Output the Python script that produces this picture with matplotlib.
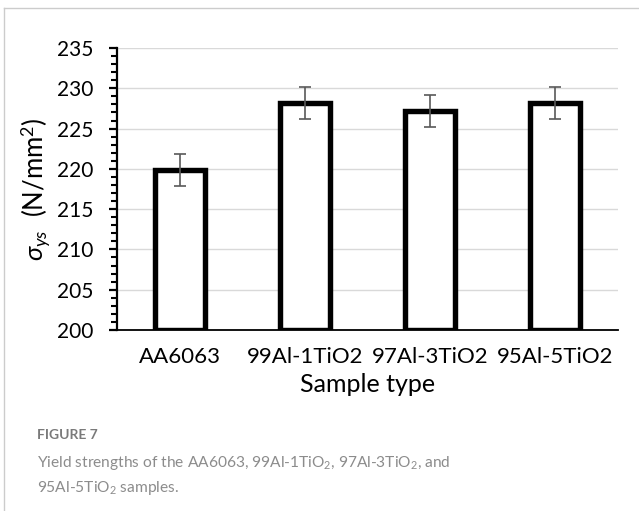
import matplotlib
matplotlib.use("Agg")
import matplotlib.pyplot as plt
from matplotlib.lines import Line2D
from matplotlib.ticker import MultipleLocator

categories = ["AA6063", "99Al-1TiO2", "97Al-3TiO2", "95Al-5TiO2"]
yield_strength = [219.9, 228.2, 227.2, 228.2]
errors = [2.0, 2.0, 2.0, 2.0]
y_ticks = [200, 205, 210, 215, 220, 225, 230, 235]

FONT = "Lato"
plt.rcParams["font.family"] = [FONT, "DejaVu Sans"]
plt.rcParams["mathtext.fontset"] = "custom"
plt.rcParams["mathtext.rm"] = FONT
plt.rcParams["mathtext.it"] = FONT + ":italic"

W, H = 639, 511
fig = plt.figure(figsize=(W / 100, H / 100), dpi=100)
fig.patch.set_facecolor("white")

ax = fig.add_axes([117 / W, 1 - 330 / H, (618 - 117) / W, (330 - 48) / H])
x = list(range(len(categories)))
ax.bar(x, [v - 200 for v in yield_strength], bottom=200, width=0.4,
       facecolor="white", edgecolor="black", linewidth=3.9, zorder=3)
ax.errorbar(x, yield_strength, yerr=errors, fmt="none", ecolor="#595959",
            elinewidth=1.2, capsize=4.5, capthick=1.2, zorder=4)

ax.set_xlim(-0.5, len(categories) - 0.5)
ax.set_ylim(200, 235)
ax.set_yticks(y_ticks)
ax.yaxis.set_minor_locator(MultipleLocator(1))
ax.set_xticks(x)
ax.set_xticklabels(categories)
ax.grid(axis="y", color="#d9d9d9", linewidth=1.0, zorder=0)
ax.set_axisbelow(True)

for s in ["top", "right"]:
    ax.spines[s].set_visible(False)
ax.spines["left"].set_linewidth(1.6)
ax.spines["bottom"].set_linewidth(1.3)
ax.tick_params(axis="y", which="major", direction="out", length=5.8, width=1.6,
               labelsize=15, pad=11)
ax.tick_params(axis="y", which="minor", direction="out", length=4, width=1.5)
ax.tick_params(axis="x", length=0, labelsize=16, pad=12)

ax.set_xlabel("Sample type", fontsize=18)
ax.xaxis.set_label_coords(0.5, -0.153)
ax.set_ylabel(r"$\mathit{\sigma}_{ys}$  (N/mm$^2$)", fontsize=18.5)
ax.yaxis.set_label_coords(-0.128, 0.5)

# frame lines (left and top)
fig.add_artist(Line2D([4 / W, 4 / W], [0, 1 - 8 / H], transform=fig.transFigure,
                      color="#cccccc", linewidth=1))
fig.add_artist(Line2D([4 / W, 1], [1 - 8 / H, 1 - 8 / H], transform=fig.transFigure,
                      color="#cccccc", linewidth=1))

cap_color = "#8c8c8c"
fig.text(37 / W, 1 - 435 / H, "FIGURE 7", fontsize=10, fontweight="bold",
         color="#7a7a7a", va="center", ha="left")
fig.text(37 / W, 1 - 463 / H,
         r"Yield strengths of the AA6063, 99Al-1TiO$_2$, 97Al-3TiO$_2$, and",
         fontsize=11.2, color=cap_color, va="center", ha="left")
fig.text(37 / W, 1 - 488 / H, r"95Al-5TiO$_2$ samples.",
         fontsize=11.2, color=cap_color, va="center", ha="left")

fig.savefig("out.png", dpi=100, facecolor="white")
